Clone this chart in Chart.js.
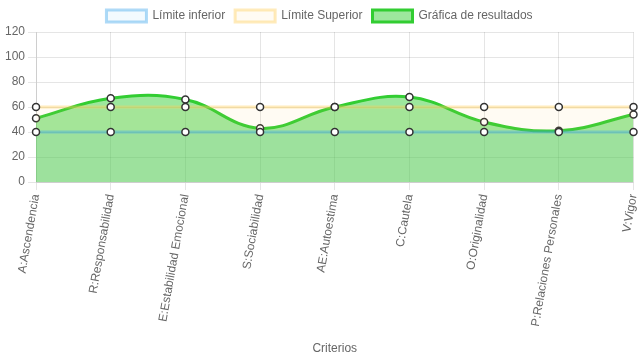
<!DOCTYPE html>
<html>
<head>
<meta charset="utf-8">
<script src="https://cdn.jsdelivr.net/npm/chart.js@4/dist/chart.umd.min.js"></script>
<style>
  html, body { margin: 0; padding: 0; background: #fff; }
  #wrap { width: 639px; height: 360px; }
</style>
</head>
<body>
<div id="wrap"><canvas id="grafica"></canvas></div>
<script>
const criterios = ['A:Ascendencia', 'R:Responsabilidad', 'E:Estabilidad Emocional', 'S:Sociabilidad',
  'AE:Autoestima', 'C:Cautela', 'O:Originalidad', 'P:Relaciones Personales', 'V:Vigor'];
const limiteInferior = [40, 40, 40, 40, 40, 40, 40, 40, 40];
const limiteSuperior = [60, 60, 60, 60, 60, 60, 60, 60, 60];
const resultados = [51, 67, 66, 43, 60, 68, 48, 41, 54];

Chart.defaults.font.family = '"Liberation Sans", Arial, sans-serif';
Chart.defaults.font.size = 12;
Chart.defaults.color = '#666';

const puntos = {
  pointBackgroundColor: '#fff',
  pointBorderColor: '#333',
  pointBorderWidth: 1.5,
  pointRadius: 3.5
};

const ctx = document.getElementById('grafica').getContext('2d');
const grafica = new Chart(ctx, {
  type: 'line',
  data: {
    labels: criterios,
    datasets: [{
      label: 'Límite inferior',
      data: limiteInferior,
      borderColor: 'rgba(54, 162, 235, 0.4)',
      backgroundColor: 'rgba(54, 162, 235, 0.06)',
      borderWidth: 3,
      fill: true,
      ...puntos
    }, {
      label: 'Límite Superior',
      data: limiteSuperior,
      borderColor: 'rgba(255, 205, 86, 0.4)',
      backgroundColor: 'rgba(255, 205, 86, 0.07)',
      borderWidth: 3,
      fill: true,
      ...puntos
    }, {
      label: 'Gráfica de resultados',
      data: resultados,
      borderColor: 'rgb(50, 205, 50)',
      backgroundColor: 'rgba(50, 205, 50, 0.48)',
      borderWidth: 3,
      fill: true,
      tension: 0.4,
      ...puntos
    }]
  },
  options: {
    responsive: true,
    maintainAspectRatio: false,
    animation: false,
    scales: {
      y: {
        min: 0,
        max: 120,
        ticks: { stepSize: 20 },
        afterFit: (escala) => { escala.width += 2; }
      },
      x: {
        ticks: { minRotation: 80, maxRotation: 80 },
        title: { display: true, text: 'Criterios', padding: { top: 11, bottom: 4 } },
        afterFit: (escala) => { escala.paddingRight = 2; }
      }
    },
    plugins: {
      legend: { labels: { boxWidth: 40 } },
      tooltip: { enabled: false }
    }
  }
});
</script>
</body>
</html>
